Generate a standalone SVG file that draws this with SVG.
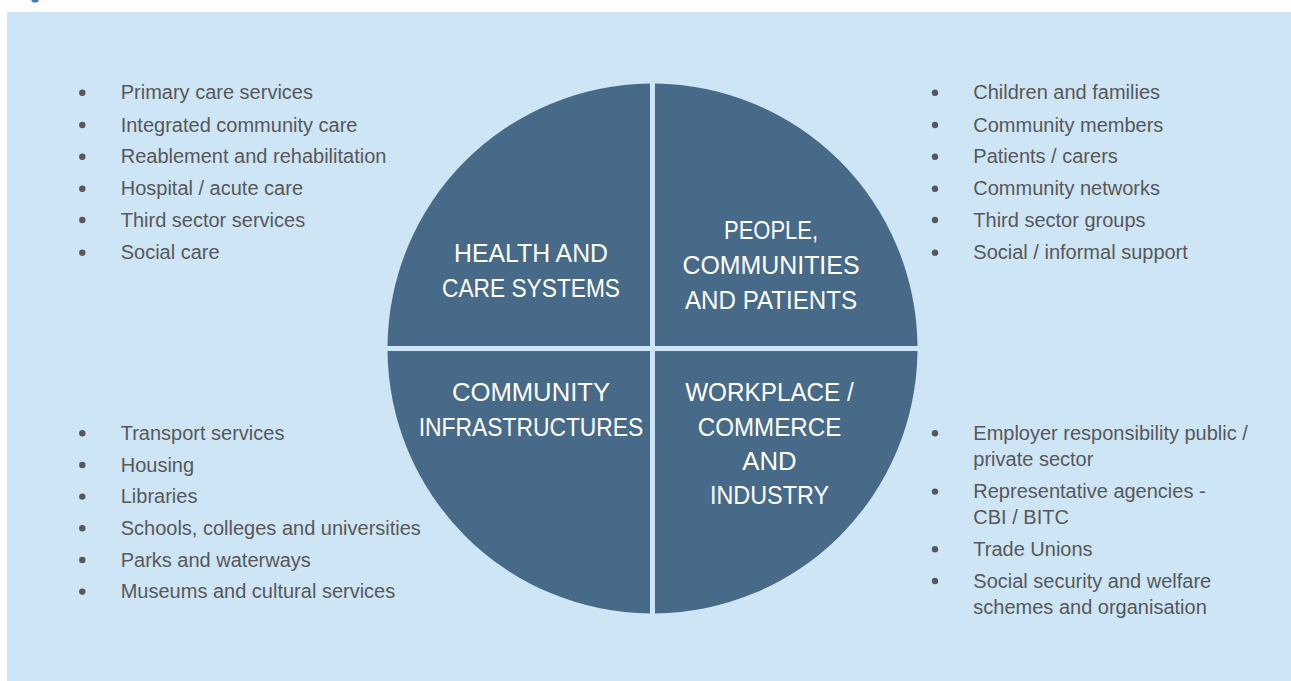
<svg xmlns="http://www.w3.org/2000/svg" width="1291" height="681" viewBox="0 0 1291 681">
<style>
.panel{fill:#cde5f5}
.quad{fill:#486a89}
.qt{font-family:"Liberation Sans",Arial,sans-serif;font-size:25px;fill:#ffffff;text-anchor:middle}
.li{font-family:"Liberation Sans",Arial,sans-serif;font-size:20px;fill:#58585a}
.dot{fill:#58585a}
</style>
<defs>
<circle id="b" r="3.2" class="dot"/>
</defs>
<rect width="1291" height="681" fill="#ffffff"/>
<ellipse cx="35" cy="0.5" rx="3.5" ry="2" fill="#3d7dbf"/>
<rect class="panel" x="7" y="12" width="1284" height="669"/>

<g id="connectors"></g>

<g id="node-health">
<path class="quad" d="M650,346 L650,83.51 A265,265 0 0 0 387.51,346 Z"/>
<text class="qt" x="531" y="262" textLength="154" lengthAdjust="spacingAndGlyphs">HEALTH AND</text>
<text class="qt" x="531" y="296.5" textLength="178" lengthAdjust="spacingAndGlyphs">CARE SYSTEMS</text>
</g>

<g id="node-people">
<path class="quad" d="M655,346 L917.49,346 A265,265 0 0 0 655,83.51 Z"/>
<text class="qt" x="771" y="238.5" textLength="94" lengthAdjust="spacingAndGlyphs">PEOPLE,</text>
<text class="qt" x="771" y="274" textLength="177" lengthAdjust="spacingAndGlyphs">COMMUNITIES</text>
<text class="qt" x="771" y="309" textLength="172" lengthAdjust="spacingAndGlyphs">AND PATIENTS</text>
</g>

<g id="node-community">
<path class="quad" d="M650,351 L387.51,351 A265,265 0 0 0 650,613.49 Z"/>
<text class="qt" x="531" y="401" textLength="158" lengthAdjust="spacingAndGlyphs">COMMUNITY</text>
<text class="qt" x="531" y="435.7" textLength="224.6" lengthAdjust="spacingAndGlyphs">INFRASTRUCTURES</text>
</g>

<g id="node-workplace">
<path class="quad" d="M655,351 L655,613.49 A265,265 0 0 0 917.49,351 Z"/>
<text class="qt" x="769.5" y="401" textLength="168.6" lengthAdjust="spacingAndGlyphs">WORKPLACE /</text>
<text class="qt" x="769.5" y="435.7" textLength="143.6" lengthAdjust="spacingAndGlyphs">COMMERCE</text>
<text class="qt" x="769.5" y="470" textLength="54.3" lengthAdjust="spacingAndGlyphs">AND</text>
<text class="qt" x="769.5" y="504" textLength="119" lengthAdjust="spacingAndGlyphs">INDUSTRY</text>
</g>

<g id="list-health">
<use href="#b" x="82.3" y="92.7"/><text class="li" x="120.7" y="99.3">Primary care services</text>
<use href="#b" x="82.3" y="125"/><text class="li" x="120.7" y="131.7">Integrated community care</text>
<use href="#b" x="82.3" y="156.7"/><text class="li" x="120.7" y="163.3">Reablement and rehabilitation</text>
<use href="#b" x="82.3" y="188.7"/><text class="li" x="120.7" y="195.3">Hospital / acute care</text>
<use href="#b" x="82.3" y="220"/><text class="li" x="120.7" y="226.7">Third sector services</text>
<use href="#b" x="82.3" y="252.7"/><text class="li" x="120.7" y="259.3">Social care</text>
</g>

<g id="list-people">
<use href="#b" x="935" y="92.7"/><text class="li" x="973.3" y="99.3">Children and families</text>
<use href="#b" x="935" y="125"/><text class="li" x="973.3" y="131.7">Community members</text>
<use href="#b" x="935" y="156.7"/><text class="li" x="973.3" y="163.3">Patients / carers</text>
<use href="#b" x="935" y="188.7"/><text class="li" x="973.3" y="195.3">Community networks</text>
<use href="#b" x="935" y="220"/><text class="li" x="973.3" y="226.7">Third sector groups</text>
<use href="#b" x="935" y="252.7"/><text class="li" x="973.3" y="259.3">Social / informal support</text>
</g>

<g id="list-community">
<use href="#b" x="82.3" y="433.3"/><text class="li" x="120.7" y="440">Transport services</text>
<use href="#b" x="82.3" y="465"/><text class="li" x="120.7" y="471.7">Housing</text>
<use href="#b" x="82.3" y="496.6"/><text class="li" x="120.7" y="503.3">Libraries</text>
<use href="#b" x="82.3" y="528.3"/><text class="li" x="120.7" y="535">Schools, colleges and universities</text>
<use href="#b" x="82.3" y="560"/><text class="li" x="120.7" y="566.7">Parks and waterways</text>
<use href="#b" x="82.3" y="591.6"/><text class="li" x="120.7" y="598.3">Museums and cultural services</text>
</g>

<g id="list-workplace">
<use href="#b" x="935" y="433.3"/><text class="li" x="973.3" y="440">Employer responsibility public /</text>
<text class="li" x="973.3" y="466">private sector</text>
<use href="#b" x="935" y="491.6"/><text class="li" x="973.3" y="498.3">Representative agencies -</text>
<text class="li" x="973.3" y="524">CBI / BITC</text>
<use href="#b" x="935" y="549.3"/><text class="li" x="973.3" y="556">Trade Unions</text>
<use href="#b" x="935" y="581"/><text class="li" x="973.3" y="587.7">Social security and welfare</text>
<text class="li" x="973.3" y="614">schemes and organisation</text>
</g>
</svg>
